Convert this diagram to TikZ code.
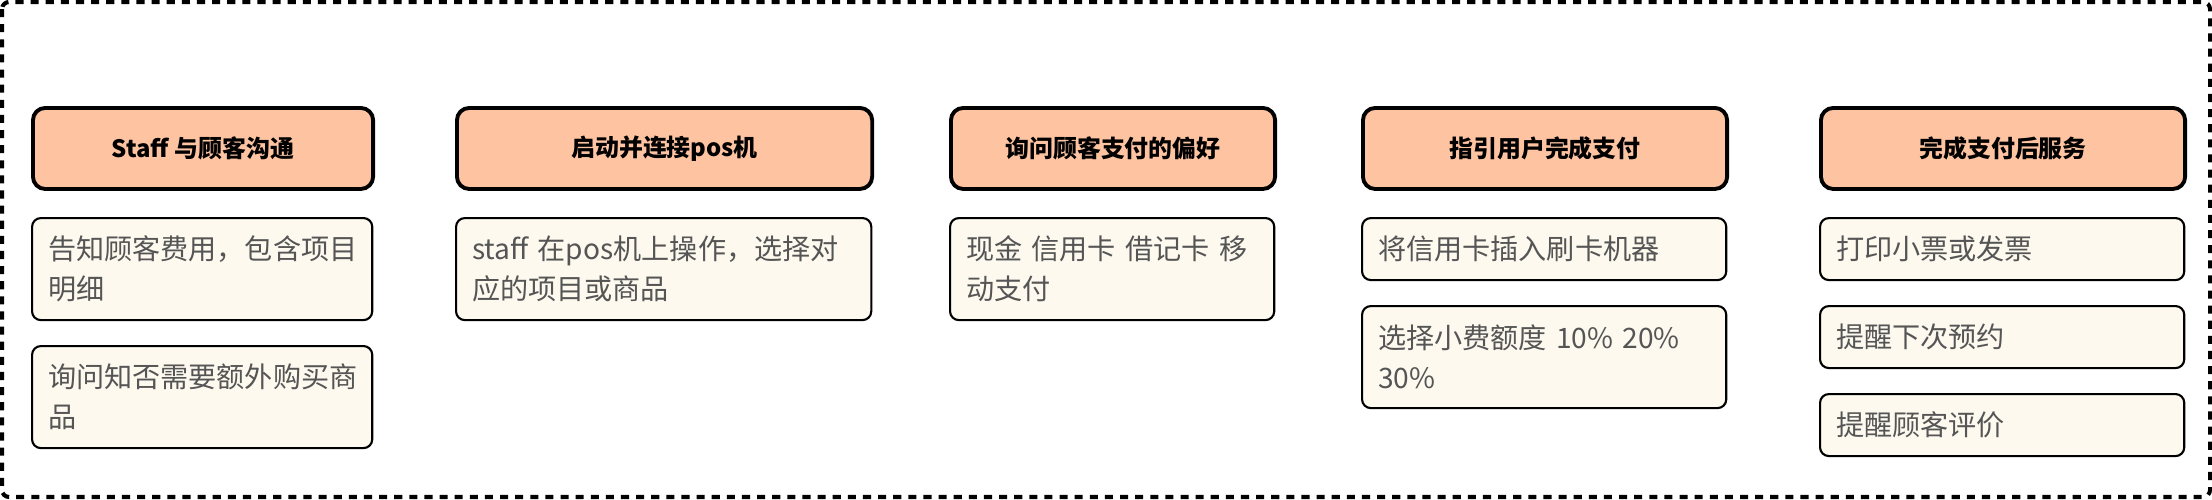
\documentclass[tikz,border=0pt]{standalone}
\usepackage{fontspec}
\setmainfont{Noto Sans CJK SC}
\definecolor{headfill}{HTML}{FEC4A2}
\definecolor{notefill}{HTML}{FDF9EF}
\definecolor{notetext}{HTML}{555555}
\begin{document}
\begin{tikzpicture}[x=0.01cm, y=-0.01cm,
  head/.style={draw, line width=1.1pt, rounded corners=3.5pt, fill=headfill, anchor=north west, font=\fontsize{6.8pt}{8pt}\selectfont\bfseries, minimum height=0.81cm},
  note/.style={draw, line width=0.6pt, rounded corners=2.5pt, fill=notefill, text=notetext, anchor=north west, align=left, font=\fontsize{8pt}{11.4pt}\selectfont, inner xsep=0.16cm, inner ysep=0pt, minimum height=0.62cm, text width=#1},
  tall/.style={minimum height=1.02cm},
  frame/.style={line width=1.15pt, dash pattern=on 2.3pt off 2pt, rounded corners=2pt}
]
\useasboundingbox (0,0) rectangle (2212,500);
\draw[frame] (2,2) rectangle (2210,497);

% stage headers
\node[head, minimum width=3.4cm] (talk) at (31,106) {Staff 与顾客沟通};
\node[head, minimum width=4.15cm] (pos) at (455,106) {启动并连接pos机};
\node[head, minimum width=3.24cm] (prefer) at (949,106) {询问顾客支付的偏好};
\node[head, minimum width=3.64cm] (guide) at (1361,106) {指引用户完成支付};
\node[head, minimum width=3.64cm] (after) at (1819,106) {完成支付后服务};

% notes under each stage
\node[note=3.08cm, tall] (talk-fee) at (31,217) {告知顾客费用，包含项目\\明细};
\node[note=3.08cm, tall] (talk-extra) at (31,345) {询问知否需要额外购买商\\品};
\node[note=3.83cm, tall] (pos-op) at (455,217) {staff 在pos机上操作，选择对\\应的项目或商品};
\node[note=2.92cm, tall] (prefer-way) at (949,217) {现金 信用卡 借记卡 移\\动支付};
\node[note=3.32cm] (guide-card) at (1361,217) {将信用卡插入刷卡机器};
\node[note=3.32cm, tall] (guide-tip) at (1361,305) {选择小费额度 10\% 20\%\\30\%};
\node[note=3.32cm] (after-bill) at (1819,217) {打印小票或发票};
\node[note=3.32cm] (after-book) at (1819,305) {提醒下次预约};
\node[note=3.32cm] (after-rate) at (1819,393) {提醒顾客评价};
\end{tikzpicture}
\end{document}
